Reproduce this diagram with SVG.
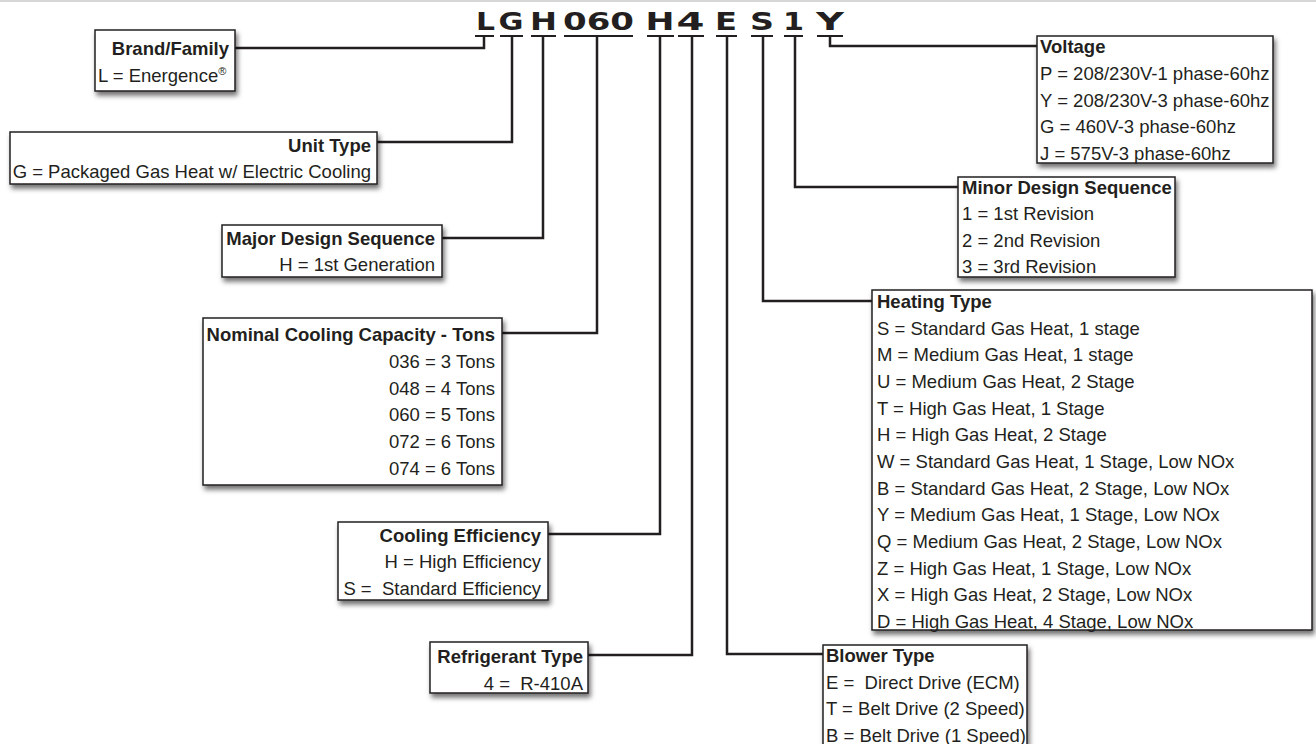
<svg xmlns="http://www.w3.org/2000/svg" width="1316" height="744" viewBox="0 0 1316 744">
<defs>
<filter id="sh" x="-10%" y="-20%" width="125%" height="150%">
<feDropShadow dx="2" dy="4" stdDeviation="2.5" flood-color="#000" flood-opacity="0.55"/>
</filter>
<style>
.box{fill:#fff;stroke:#231f20;stroke-width:1.5;filter:url(#sh)}
.t{font-family:"Liberation Sans",Arial,sans-serif;font-size:18.5px;fill:#231f20}
.b{font-weight:bold}
.r{text-anchor:end}
.pre{white-space:pre}
.conn{fill:none;stroke:#231f20;stroke-width:2.5}
.bar{stroke:#231f20;stroke-width:2}
.code{font-family:"DejaVu Sans",sans-serif;font-weight:bold;font-size:25px;fill:#231f20}
</style>
</defs>
<rect x="0" y="0" width="1316" height="2" fill="#d6d6d6"/>

<g id="model-code">
<text class="code" x="476" y="30" textLength="19" lengthAdjust="spacingAndGlyphs">L</text>
<text class="code" x="498.5" y="30" textLength="25" lengthAdjust="spacingAndGlyphs">G</text>
<text class="code" x="530" y="30" textLength="27" lengthAdjust="spacingAndGlyphs">H</text>
<text class="code" x="563" y="30" textLength="71" lengthAdjust="spacingAndGlyphs">060</text>
<text class="code" x="645.5" y="30" textLength="29" lengthAdjust="spacingAndGlyphs">H</text>
<text class="code" x="676.5" y="30" textLength="28" lengthAdjust="spacingAndGlyphs">4</text>
<text class="code" x="715" y="30" textLength="22" lengthAdjust="spacingAndGlyphs">E</text>
<text class="code" x="750" y="30" textLength="24" lengthAdjust="spacingAndGlyphs">S</text>
<text class="code" x="783" y="30" textLength="21" lengthAdjust="spacingAndGlyphs">1</text>
<text class="code" x="816" y="30" textLength="28" lengthAdjust="spacingAndGlyphs">Y</text>
</g>

<g id="connectors">
<line class="bar" x1="475" y1="36" x2="494" y2="36"/>
<line class="bar" x1="500" y1="36" x2="523" y2="36"/>
<line class="bar" x1="531" y1="36" x2="556" y2="36"/>
<line class="bar" x1="564" y1="36" x2="633" y2="36"/>
<line class="bar" x1="647" y1="36" x2="674" y2="36"/>
<line class="bar" x1="678" y1="36" x2="704" y2="36"/>
<line class="bar" x1="716" y1="36" x2="737" y2="36"/>
<line class="bar" x1="751" y1="36" x2="773" y2="36"/>
<line class="bar" x1="784" y1="36" x2="803" y2="36"/>
<line class="bar" x1="817" y1="36" x2="843" y2="36"/>
<path class="conn" d="M484,36 V48 H235"/>
<path class="conn" d="M512,36 V142 H377"/>
<path class="conn" d="M543,36 V238 H442"/>
<path class="conn" d="M597,36 V333 H502"/>
<path class="conn" d="M660,36 V534 H548"/>
<path class="conn" d="M692,36 V655 H588"/>
<path class="conn" d="M727,36 V654 H823"/>
<path class="conn" d="M763,36 V301 H872"/>
<path class="conn" d="M795,36 V187 H958"/>
<path class="conn" d="M830,36 V46 H1037"/>
</g>

<g id="brand-family">
<rect class="box" x="95" y="30" width="140" height="61"/>
<text class="t b r" x="229" y="54.5">Brand/Family</text>
<text class="t" x="98" y="82">L = Energence<tspan font-size="11" dy="-7">®</tspan></text>
</g>

<g id="unit-type">
<rect class="box" x="10" y="132" width="367" height="52"/>
<text class="t b r" x="371" y="151.5">Unit Type</text>
<text class="t r" x="371" y="177.5">G = Packaged Gas Heat w/ Electric Cooling</text>
</g>

<g id="major-design">
<rect class="box" x="222" y="225" width="220" height="52"/>
<text class="t b r" x="435" y="244.5">Major Design Sequence</text>
<text class="t r" x="435" y="271">H = 1st Generation</text>
</g>

<g id="nominal-capacity">
<rect class="box" x="203" y="318" width="299" height="167"/>
<text class="t b r" x="495" y="341">Nominal Cooling Capacity - Tons</text>
<text class="t r" x="495" y="368">036 = 3 Tons</text>
<text class="t r" x="495" y="394.7">048 = 4 Tons</text>
<text class="t r" x="495" y="421.3">060 = 5 Tons</text>
<text class="t r" x="495" y="448">072 = 6 Tons</text>
<text class="t r" x="495" y="474.7">074 = 6 Tons</text>
</g>

<g id="cooling-efficiency">
<rect class="box" x="338" y="522" width="210" height="78"/>
<text class="t b r" x="541" y="541.5">Cooling Efficiency</text>
<text class="t r" x="541" y="568">H = High Efficiency</text>
<text class="t r pre" x="541" y="594.5">S =  Standard Efficiency</text>
</g>

<g id="refrigerant-type">
<rect class="box" x="430" y="642" width="158" height="51"/>
<text class="t b r" x="583" y="663">Refrigerant Type</text>
<text class="t r pre" x="583" y="689.5">4 =  R-410A</text>
</g>

<g id="voltage">
<rect class="box" x="1037" y="36" width="236" height="127"/>
<text class="t b" x="1040" y="53.3">Voltage</text>
<text class="t" x="1040" y="80">P = 208/230V-1 phase-60hz</text>
<text class="t" x="1040" y="106.7">Y = 208/230V-3 phase-60hz</text>
<text class="t" x="1040" y="133.3">G = 460V-3 phase-60hz</text>
<text class="t" x="1040" y="160">J = 575V-3 phase-60hz</text>
</g>

<g id="minor-design">
<rect class="box" x="958" y="177" width="217" height="100"/>
<text class="t b" x="962" y="193.5">Minor Design Sequence</text>
<text class="t" x="962" y="220">1 = 1st Revision</text>
<text class="t" x="962" y="246.7">2 = 2nd Revision</text>
<text class="t" x="962" y="273.3">3 = 3rd Revision</text>
</g>

<g id="heating-type">
<rect class="box" x="872" y="290" width="440" height="340"/>
<text class="t b" x="877" y="308">Heating Type</text>
<text class="t" x="877" y="334.7">S = Standard Gas Heat, 1 stage</text>
<text class="t" x="877" y="361.3">M = Medium Gas Heat, 1 stage</text>
<text class="t" x="877" y="388">U = Medium Gas Heat, 2 Stage</text>
<text class="t" x="877" y="414.7">T = High Gas Heat, 1 Stage</text>
<text class="t" x="877" y="441.3">H = High Gas Heat, 2 Stage</text>
<text class="t" x="877" y="468">W = Standard Gas Heat, 1 Stage, Low NOx</text>
<text class="t" x="877" y="494.7">B = Standard Gas Heat, 2 Stage, Low NOx</text>
<text class="t" x="877" y="521.3">Y = Medium Gas Heat, 1 Stage, Low NOx</text>
<text class="t" x="877" y="548">Q = Medium Gas Heat, 2 Stage, Low NOx</text>
<text class="t" x="877" y="574.7">Z = High Gas Heat, 1 Stage, Low NOx</text>
<text class="t" x="877" y="601.3">X = High Gas Heat, 2 Stage, Low NOx</text>
<text class="t" x="877" y="628">D = High Gas Heat, 4 Stage, Low NOx</text>
</g>

<g id="blower-type">
<rect class="box" x="823" y="645" width="204" height="130"/>
<text class="t b" x="826" y="662">Blower Type</text>
<text class="t pre" x="826" y="688.7">E =  Direct Drive (ECM)</text>
<text class="t" x="826" y="715.3">T = Belt Drive (2 Speed)</text>
<text class="t" x="826" y="742">B = Belt Drive (1 Speed)</text>
</g>
</svg>
